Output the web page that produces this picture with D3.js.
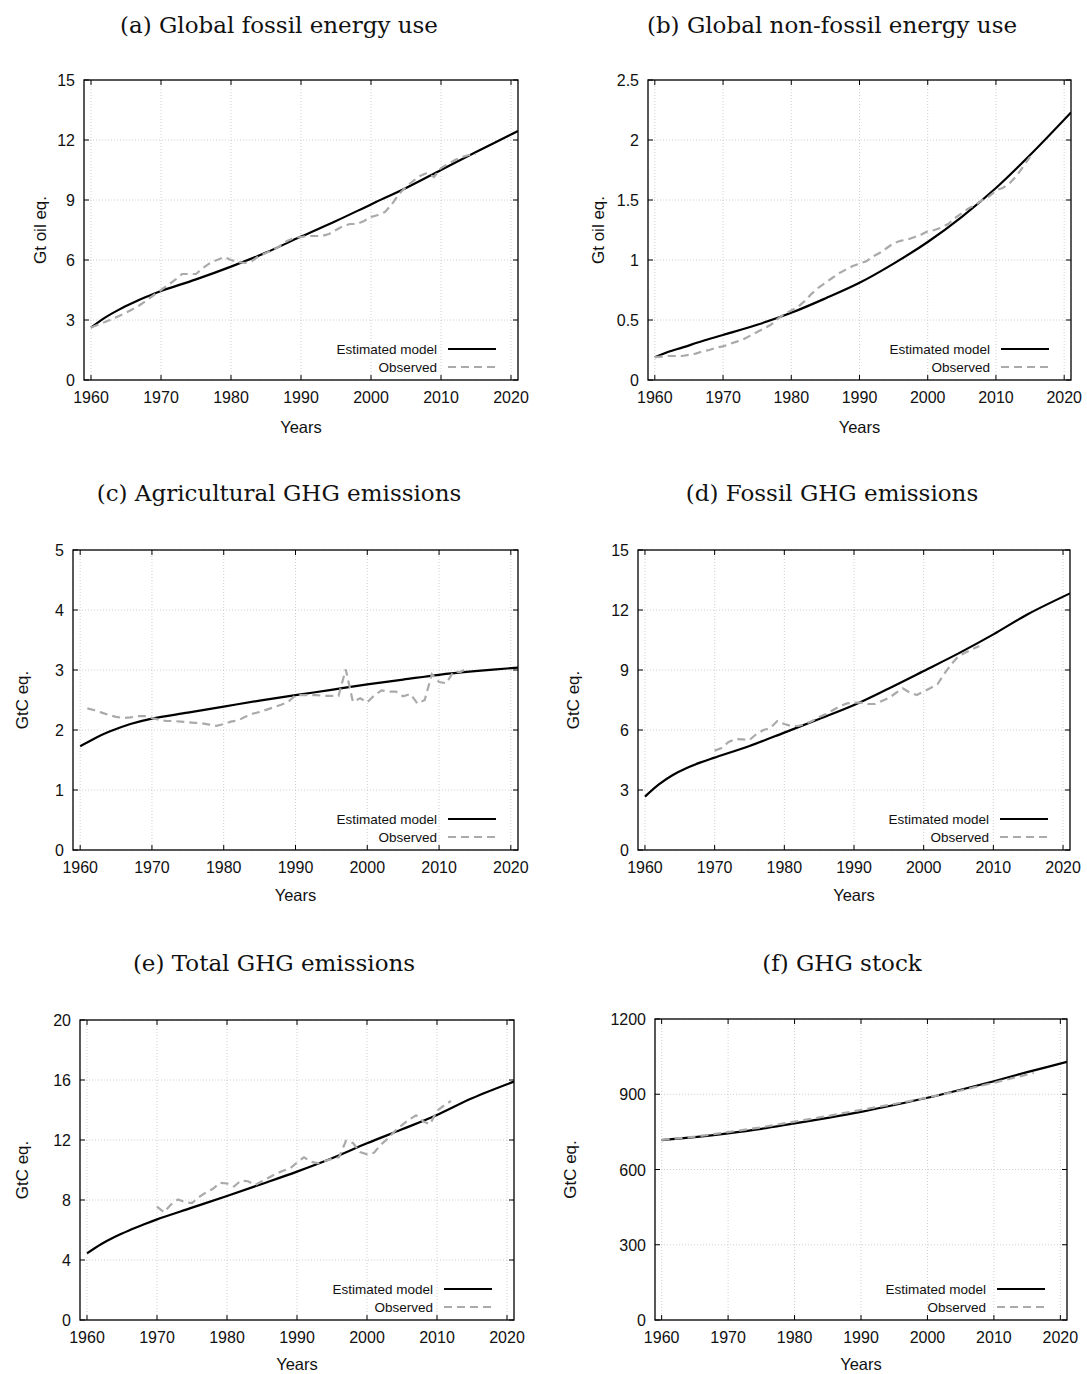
<!DOCTYPE html>
<html><head><meta charset="utf-8">
<script src="https://cdn.jsdelivr.net/npm/d3@7"></script>
<style>body{margin:0;background:#fff} svg{display:block}</style>
</head><body><svg id="chart" width="1087" height="1374"></svg>
<script>
// ---------- data ----------
const xTickYears = [1960, 1970, 1980, 1990, 2000, 2010, 2020];
const legendLabels = ["Estimated model", "Observed"];

// (a) Global fossil energy use
const yTicksA = [0, 3, 6, 9, 12, 15];
const modelYearsA = [1960, 1962, 1964, 1966, 1968, 1970, 1975, 1980, 1985, 1990, 1995, 2000, 2005, 2010, 2015, 2021];
const modelA = [2.62, 3.12, 3.52, 3.86, 4.17, 4.45, 5.03, 5.67, 6.37, 7.17, 7.95, 8.78, 9.6, 10.5, 11.4, 12.45];
const obsYearsA = [1960,1961,1962,1963,1964,1965,1966,1967,1968,1969,1970,1971,1972,1973,1974,1975,1976,1977,1978,1979,1980,1981,1982,1983,1984,1985,1986,1987,1988,1989,1990,1991,1992,1993,1994,1995,1996,1997,1998,1999,2000,2001,2002,2003,2004,2005,2006,2007,2008,2009,2010,2011,2012,2013,2014,2015];
const obsA = [2.62,2.76,2.9,3.05,3.2,3.37,3.55,3.75,4.0,4.25,4.5,4.75,5.0,5.3,5.3,5.3,5.6,5.85,6.0,6.15,6.0,5.9,5.85,5.95,6.2,6.35,6.5,6.7,6.95,7.1,7.15,7.2,7.2,7.2,7.3,7.5,7.7,7.8,7.8,7.95,8.15,8.25,8.4,8.8,9.3,9.65,9.95,10.2,10.35,10.15,10.6,10.8,11.0,11.15,11.25,11.3];

// (b) Global non-fossil energy use
const yTicksB = [0, 0.5, 1, 1.5, 2, 2.5];
const modelYearsB = [1960, 1962, 1964, 1967, 1970, 1975, 1980, 1985, 1990, 1995, 2000, 2005, 2010, 2015, 2021];
const modelB = [0.19, 0.235, 0.27, 0.325, 0.375, 0.46, 0.56, 0.68, 0.81, 0.97, 1.15, 1.36, 1.6, 1.875, 2.23];
const obsYearsB = obsYearsA;
const obsB = [0.19,0.195,0.2,0.2,0.2,0.21,0.22,0.24,0.25,0.27,0.28,0.3,0.32,0.34,0.37,0.4,0.43,0.46,0.51,0.55,0.58,0.61,0.66,0.72,0.77,0.81,0.85,0.89,0.92,0.95,0.97,0.99,1.03,1.06,1.1,1.14,1.16,1.17,1.19,1.21,1.24,1.25,1.27,1.3,1.35,1.39,1.43,1.46,1.5,1.53,1.58,1.6,1.64,1.7,1.78,1.86];

// (c) Agricultural GHG emissions
const yTicksC = [0, 1, 2, 3, 4, 5];
const modelYearsC = [1960, 1962, 1964, 1967, 1970, 1975, 1980, 1985, 1990, 1995, 2000, 2005, 2010, 2015, 2021];
const modelC = [1.73, 1.86, 1.97, 2.1, 2.19, 2.29, 2.39, 2.49, 2.58, 2.67, 2.76, 2.84, 2.92, 2.98, 3.04];
const obsYearsC = [1961,1962,1963,1964,1965,1966,1967,1968,1969,1970,1971,1972,1973,1974,1975,1976,1977,1978,1979,1980,1981,1982,1983,1984,1985,1986,1987,1988,1989,1990,1991,1992,1993,1994,1995,1996,1997,1998,1999,2000,2001,2002,2003,2004,2005,2006,2007,2008,2009,2010,2011,2012,2013,2014];
const obsC = [2.36,2.33,2.29,2.25,2.22,2.2,2.21,2.23,2.23,2.2,2.17,2.15,2.15,2.14,2.13,2.12,2.11,2.09,2.07,2.1,2.14,2.16,2.22,2.27,2.3,2.34,2.38,2.42,2.47,2.58,2.58,2.58,2.58,2.57,2.57,2.57,3.01,2.47,2.53,2.46,2.58,2.66,2.64,2.64,2.56,2.6,2.44,2.5,2.93,2.8,2.78,2.97,2.97,3.03];

// (d) Fossil GHG emissions
const yTicksD = [0, 3, 6, 9, 12, 15];
const modelYearsD = [1960, 1962, 1964, 1966, 1968, 1970, 1975, 1980, 1985, 1990, 1995, 2000, 2005, 2010, 2015, 2021];
const modelD = [2.67, 3.28, 3.75, 4.1, 4.38, 4.62, 5.2, 5.87, 6.55, 7.25, 8.08, 8.95, 9.83, 10.78, 11.8, 12.83];
const obsYearsD = [1970,1971,1972,1973,1974,1975,1976,1977,1978,1979,1980,1981,1982,1983,1984,1985,1986,1987,1988,1989,1990,1991,1992,1993,1994,1995,1996,1997,1998,1999,2000,2001,2002,2003,2004,2005,2006,2007,2008];
const obsD = [4.97,5.1,5.4,5.55,5.53,5.5,5.8,6.0,6.1,6.45,6.3,6.2,6.2,6.3,6.45,6.65,6.8,7.0,7.2,7.33,7.37,7.37,7.3,7.3,7.45,7.6,7.85,8.08,7.87,7.75,7.92,8.1,8.3,8.83,9.3,9.7,9.87,10.05,10.2];

// (e) Total GHG emissions
const yTicksE = [0, 4, 8, 12, 16, 20];
const modelYearsE = [1960, 1962, 1964, 1966, 1968, 1970, 1975, 1980, 1985, 1990, 1995, 2000, 2005, 2010, 2015, 2021];
const modelE = [4.44, 5.05, 5.55, 5.97, 6.35, 6.71, 7.49, 8.27, 9.07, 9.89, 10.78, 11.78, 12.71, 13.67, 14.78, 15.89];
const obsYearsE = [1970,1971,1972,1973,1974,1975,1976,1977,1978,1979,1980,1981,1982,1983,1984,1985,1986,1987,1988,1989,1990,1991,1992,1993,1994,1995,1996,1997,1998,1999,2000,2001,2002,2003,2004,2005,2006,2007,2008,2009,2010,2011,2012];
const obsE = [7.56,7.18,7.7,8.04,7.85,7.8,8.2,8.5,8.75,9.15,9.1,8.9,9.3,9.25,9.0,9.25,9.5,9.75,9.95,10.1,10.5,10.85,10.55,10.45,10.6,10.75,10.85,11.95,11.8,11.2,11.05,11.15,11.7,12.1,12.6,13.0,13.35,13.65,13.25,13.05,13.95,14.3,14.6];

// (f) GHG stock
const yTicksF = [0, 300, 600, 900, 1200];
const modelYearsF = [1960, 1965, 1970, 1975, 1980, 1985, 1990, 1995, 2000, 2005, 2010, 2015, 2021];
const modelF = [717, 729, 744, 762, 784, 806, 830, 857, 886, 918, 952, 988, 1029];
const obsYearsF = [1960, 1965, 1970, 1975, 1980, 1985, 1990, 1995, 2000, 2005, 2010, 2016];
const obsF = [718, 731, 749, 768, 791, 813, 838, 861, 887, 915, 946, 985];

// ---------- layout ----------
const panels = [
  {title:"(a) Global fossil energy use", ylabel:"Gt oil eq.", yTicks:yTicksA, mY:modelYearsA, m:modelA, oY:obsYearsA, o:obsA,
   box:{l:84, r:518, t:80, b:380}, ylabX:40, titleX:279, titleY:33, yearsDy:53},
  {title:"(b) Global non-fossil energy use", ylabel:"Gt oil eq.", yTicks:yTicksB, mY:modelYearsB, m:modelB, oY:obsYearsB, o:obsB,
   box:{l:648, r:1071, t:80, b:380}, ylabX:598, titleX:832, titleY:33, yearsDy:53},
  {title:"(c) Agricultural GHG emissions", ylabel:"GtC eq.", yTicks:yTicksC, mY:modelYearsC, m:modelC, oY:obsYearsC, o:obsC,
   box:{l:73, r:518, t:550, b:850}, ylabX:22, titleX:279, titleY:501, yearsDy:51},
  {title:"(d) Fossil GHG emissions", ylabel:"GtC eq.", yTicks:yTicksD, mY:modelYearsD, m:modelD, oY:obsYearsD, o:obsD,
   box:{l:638, r:1070, t:550, b:850}, ylabX:573, titleX:832, titleY:501, yearsDy:51},
  {title:"(e) Total GHG emissions", ylabel:"GtC eq.", yTicks:yTicksE, mY:modelYearsE, m:modelE, oY:obsYearsE, o:obsE,
   box:{l:80, r:514, t:1020, b:1320}, ylabX:22, titleX:274, titleY:971, yearsDy:50},
  {title:"(f) GHG stock", ylabel:"GtC eq.", yTicks:yTicksF, mY:modelYearsF, m:modelF, oY:obsYearsF, o:obsF,
   box:{l:655, r:1067, t:1019, b:1320}, ylabX:570, titleX:842, titleY:971, yearsDy:50}
];

const svg = d3.select("#chart");
const sans = "'Liberation Sans', Arial, Helvetica, sans-serif";
const serif = "'DejaVu Serif', serif";
const TL = 5;

panels.forEach((p, pi) => {
  const {l, r, t, b} = p.box;
  const yMax = p.yTicks[p.yTicks.length - 1];
  const x = d3.scaleLinear().domain([1959, 2021]).range([l, r]);
  const y = d3.scaleLinear().domain([0, yMax]).range([b, t]);
  const g = svg.append("g");

  // title
  g.append("text").attr("x", p.titleX).attr("y", p.titleY)
    .attr("text-anchor", "middle").style("font-family", serif).style("font-size", "23px")
    .attr("fill", "#111").text(p.title);

  // grid
  const grid = g.append("g").attr("stroke", "#c4c4c4").attr("stroke-width", 0.8).attr("stroke-dasharray", "1,2");
  xTickYears.forEach(v => grid.append("line").attr("x1", x(v)).attr("x2", x(v)).attr("y1", t).attr("y2", b));
  p.yTicks.forEach(v => grid.append("line").attr("x1", l).attr("x2", r).attr("y1", y(v)).attr("y2", y(v)));

  // ticks (inward, mirrored)
  const tk = g.append("g").attr("stroke", "#000").attr("stroke-width", 1);
  xTickYears.forEach(v => {
    tk.append("line").attr("x1", x(v)).attr("x2", x(v)).attr("y1", b).attr("y2", b - TL);
    tk.append("line").attr("x1", x(v)).attr("x2", x(v)).attr("y1", t).attr("y2", t + TL);
  });
  p.yTicks.forEach(v => {
    tk.append("line").attr("x1", l).attr("x2", l + TL).attr("y1", y(v)).attr("y2", y(v));
    tk.append("line").attr("x1", r).attr("x2", r - TL).attr("y1", y(v)).attr("y2", y(v));
  });

  // tick labels
  xTickYears.forEach(v => g.append("text").attr("x", x(v)).attr("y", b + 23)
    .attr("text-anchor", "middle").style("font-family", sans).style("font-size", "16px").attr("fill", "#111").text(v));
  p.yTicks.forEach(v => g.append("text").attr("x", l - 9).attr("y", y(v) + 6)
    .attr("text-anchor", "end").style("font-family", sans).style("font-size", "16px").attr("fill", "#111").text(v));

  // axis titles
  g.append("text").attr("x", (l + r) / 2).attr("y", b + p.yearsDy).attr("text-anchor", "middle")
    .style("font-family", sans).style("font-size", "16.5px").attr("fill", "#111").text("Years");
  g.append("text").attr("transform", `translate(${p.ylabX},${(t + b) / 2}) rotate(-90)`)
    .attr("text-anchor", "middle").attr("dy", "0.35em")
    .style("font-family", sans).style("font-size", "17px").attr("fill", "#111").text(p.ylabel);

  // curves
  const clipId = "clip" + pi;
  g.append("clipPath").attr("id", clipId).append("rect").attr("x", l).attr("y", t).attr("width", r - l).attr("height", b - t);
  const modelLine = d3.line().x(d => x(d[0])).y(d => y(d[1])).curve(d3.curveCatmullRom.alpha(0.5));
  const obsLine = d3.line().x(d => x(d[0])).y(d => y(d[1]));
  g.append("path").attr("clip-path", `url(#${clipId})`)
    .attr("d", modelLine(p.mY.map((yr, i) => [yr, p.m[i]])))
    .attr("fill", "none").attr("stroke", "#000").attr("stroke-width", 2.2);
  g.append("path").attr("clip-path", `url(#${clipId})`)
    .attr("d", obsLine(p.oY.map((yr, i) => [yr, p.o[i]])))
    .attr("fill", "none").attr("stroke", "#aaaaaa").attr("stroke-width", 2.2).attr("stroke-dasharray", "8,5");

  // legend
  const ly = [b - 31, b - 13];
  legendLabels.forEach((lab, i) => {
    g.append("text").attr("x", r - 81).attr("y", ly[i]).attr("dy", "0.35em").attr("text-anchor", "end")
      .style("font-family", sans).style("font-size", "13.5px").attr("fill", "#111").text(lab);
    const ln = g.append("line").attr("x1", r - 70).attr("x2", r - 22).attr("y1", ly[i]).attr("y2", ly[i])
      .attr("stroke-width", 2.2);
    if (i === 0) ln.attr("stroke", "#000");
    else ln.attr("stroke", "#aaaaaa").attr("stroke-dasharray", "8,5");
  });

  // frame
  g.append("rect").attr("x", l).attr("y", t).attr("width", r - l).attr("height", b - t)
    .attr("fill", "none").attr("stroke", "#000").attr("stroke-width", 1.3);
});
</script>
</body></html>
